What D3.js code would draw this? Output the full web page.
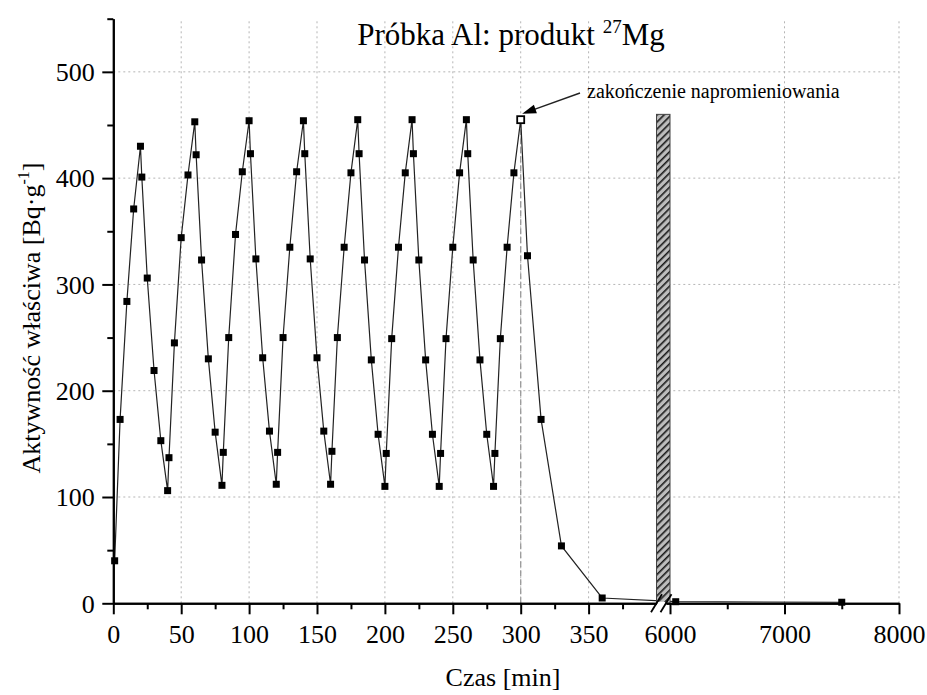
<!DOCTYPE html>
<html>
<head>
<meta charset="utf-8">
<script src="https://cdn.jsdelivr.net/npm/d3@7"></script>
<style>
  html, body { margin: 0; padding: 0; background: #fff; }
  svg { display: block; font-family: "Liberation Serif", "Times New Roman", serif; }
  svg text { font-family: "Liberation Serif", "Times New Roman", serif; }
</style>
</head>
<body>
<svg id="chart" width="927" height="695"></svg>
<script>
// Measured specific activity of 27Mg in the Al sample, cyclic irradiation then decay
const timeMin = [
  1, 5, 10, 15, 20, 21, 25, 30, 35,
  40, 41, 45, 50, 55, 60, 61, 65, 70, 75,
  80, 81, 85, 90, 95, 100, 101, 105, 110, 115,
  120, 121, 125, 130, 135, 140, 141, 145, 150, 155,
  160, 161, 165, 170, 175, 180, 181, 185, 190, 195,
  200, 201, 205, 210, 215, 220, 221, 225, 230, 235,
  240, 241, 245, 250, 255, 260, 261, 265, 270, 275,
  280, 281, 285, 290, 295, 300, 305, 315, 330, 360,
  6050, 7500
];
const activity = [
  40, 173, 284, 371, 430, 401, 306, 219, 153,
  106, 137, 245, 344, 403, 453, 422, 323, 230, 161,
  111, 142, 250, 347, 406, 454, 423, 324, 231, 162,
  112, 142, 250, 335, 406, 454, 423, 324, 231, 162,
  112, 143, 250, 335, 405, 455, 423, 323, 229, 159,
  110, 141, 249, 335, 405, 455, 423, 323, 229, 159,
  110, 141, 249, 335, 405, 455, 423, 323, 229, 159,
  110, 141, 249, 335, 405, 455, 327, 173, 54, 5,
  1.5, 1
];

// Axis ticks (x axis is broken between 400 and ~5965 min)
const yMajorTicks = [0, 100, 200, 300, 400, 500];
const yMinorTicks = [50, 150, 250, 350, 450, 550];
const xLowMajorTicks = [0, 50, 100, 150, 200, 250, 300, 350];
const xLowMinorTicks = [25, 75, 125, 175, 225, 275, 325, 375];
const xHighMajorTicks = [6000, 7000, 8000];
const xHighMinorTicks = [6500, 7500];
const xGridValues = [50, 100, 150, 200, 250, 300, 350, 7000, 8000];
const yGridValues = [100, 200, 300, 400, 500];

// End of irradiation marker and the hatched column
const irradiationEnd = [300];
const hatchColumn = [{ from: 400, to: 6000, value: 460 }];

const FONT = "'Liberation Serif', 'Times New Roman', serif";
const svg = d3.select("#chart");

const y = d3.scaleLinear().domain([0, 550]).range([603.3, 18.7]);
const xLow = d3.scaleLinear().domain([0, 400]).range([113.3, 656.5]);
const xHigh = d3.scaleLinear().domain([5965, 8000]).range([666, 899]);
const x = t => (t <= 400 ? xLow(t) : xHigh(t));

const points = timeMin.map((t, i) => ({ t, v: activity[i] }));

// hatch pattern for the column
const defs = svg.append("defs");
const pat = defs.append("pattern")
  .attr("id", "hatch")
  .attr("patternUnits", "userSpaceOnUse")
  .attr("width", 5).attr("height", 5)
  .attr("patternTransform", "rotate(45)");
pat.append("rect").attr("width", 5).attr("height", 5).attr("fill", "#bdbdbd");
pat.append("rect").attr("width", 1.6).attr("height", 5).attr("fill", "#1a1a1a");

// grid
const grid = svg.append("g")
  .attr("stroke", "#b5b5b5")
  .attr("stroke-width", 1)
  .attr("stroke-dasharray", "2,3");
grid.selectAll("line.h").data(yGridValues).join("line")
  .attr("class", "h")
  .attr("x1", xLow(0)).attr("x2", xHigh(8000))
  .attr("y1", d => y(d)).attr("y2", d => y(d));
grid.selectAll("line.v").data(xGridValues).join("line")
  .attr("class", "v")
  .attr("x1", d => x(d)).attr("x2", d => x(d))
  .attr("y1", y(0)).attr("y2", y(550));

// dashed line at the end of irradiation
svg.selectAll("line.end").data(irradiationEnd).join("line")
  .attr("class", "end")
  .attr("x1", d => x(d)).attr("x2", d => x(d))
  .attr("y1", y(0)).attr("y2", d => y(activity[timeMin.indexOf(d)]))
  .attr("stroke", "#999")
  .attr("stroke-width", 1.3)
  .attr("stroke-dasharray", "6,3");

// data line
svg.append("path")
  .datum(points)
  .attr("fill", "none")
  .attr("stroke", "#222")
  .attr("stroke-width", 1.2)
  .attr("d", d3.line().x(d => x(d.t)).y(d => y(d.v)));

// markers
const ms = 7;
svg.append("g").selectAll("rect").data(points).join("rect")
  .attr("x", d => x(d.t) - ms / 2)
  .attr("y", d => y(d.v) - ms / 2)
  .attr("width", ms).attr("height", ms)
  .attr("fill", d => (irradiationEnd.includes(d.t) ? "#fff" : "#000"))
  .attr("stroke", "#000")
  .attr("stroke-width", d => (irradiationEnd.includes(d.t) ? 1.8 : 0));

// hatched column across the break
svg.selectAll("rect.col").data(hatchColumn).join("rect")
  .attr("class", "col")
  .attr("x", d => x(d.from))
  .attr("y", d => y(d.value))
  .attr("width", d => x(d.to) - x(d.from))
  .attr("height", d => y(0) - y(d.value))
  .attr("fill", "url(#hatch)")
  .attr("stroke", "#444")
  .attr("stroke-width", 1);

// axes
function styleAxis(g) {
  g.attr("font-size", 26).attr("font-family", null).style("font-family", FONT);
  g.selectAll(".domain").attr("stroke", "#000").attr("stroke-width", 2);
  g.selectAll(".tick line").attr("stroke", "#000").attr("stroke-width", 2);
  g.selectAll(".tick text").attr("fill", "#000").style("font-family", FONT).style("font-size", "26px");
}

const xAxisY = y(0);
[[xLow, xLowMajorTicks, xLowMinorTicks], [xHigh, xHighMajorTicks, xHighMinorTicks]].forEach(([sc, major, minor]) => {
  svg.append("g")
    .attr("transform", `translate(0,${xAxisY})`)
    .call(d3.axisBottom(sc).tickValues(minor).tickSize(6).tickSizeOuter(0).tickFormat(""))
    .call(styleAxis);
  svg.append("g")
    .attr("transform", `translate(0,${xAxisY})`)
    .call(d3.axisBottom(sc).tickValues(major).tickSize(11).tickSizeOuter(0).tickFormat(d3.format("d")))
    .call(styleAxis)
    .call(g => g.selectAll(".tick text").attr("y", 39.5).attr("dy", null));
});

const yAxisX = xLow(0);
svg.append("g")
  .attr("transform", `translate(${yAxisX},0)`)
  .call(d3.axisLeft(y).tickValues(yMinorTicks).tickSize(6).tickSizeOuter(0).tickFormat(""))
  .call(styleAxis);
svg.append("g")
  .attr("transform", `translate(${yAxisX},0)`)
  .call(d3.axisLeft(y).tickValues(yMajorTicks).tickSize(11).tickSizeOuter(0).tickFormat(d3.format("d")))
  .call(styleAxis)
  .call(g => g.selectAll(".tick text").attr("x", -18.5).attr("dy", "0.34em"));

// axis break marks
const bx1 = xLow(400), bx2 = xHigh(5965);
svg.append("rect").attr("x", bx1 + 1).attr("y", xAxisY - 1.5).attr("width", bx2 - bx1 - 2).attr("height", 3).attr("fill", "#fff");
svg.append("g").attr("stroke", "#000").attr("stroke-width", 1.8)
  .selectAll("line").data([bx1, bx2]).join("line")
  .attr("x1", d => d - 5.5).attr("y1", xAxisY + 9)
  .attr("x2", d => d + 5.5).attr("y2", xAxisY - 9);

// titles
svg.append("text")
  .attr("x", 511).attr("y", 45)
  .attr("text-anchor", "middle")
  .attr("font-size", 31)
  .call(t => {
    t.append("tspan").text("Próbka Al: produkt ");
    t.append("tspan").attr("font-size", 19).attr("dy", -12).text("27");
    t.append("tspan").attr("dy", 12).text("Mg");
  });

svg.append("text")
  .attr("x", 503).attr("y", 686)
  .attr("text-anchor", "middle")
  .attr("font-size", 26)
  .text("Czas [min]");

svg.append("text")
  .attr("transform", "translate(40,318) rotate(-90)")
  .attr("text-anchor", "middle")
  .attr("font-size", 26)
  .call(t => {
    t.append("tspan").text("Aktywność właściwa [Bq·g");
    t.append("tspan").attr("font-size", 16).attr("dy", -11).text("-1");
    t.append("tspan").attr("dy", 11).text("]");
  });

// annotation with arrow
svg.append("text")
  .attr("x", 587).attr("y", 98)
  .attr("font-size", 20)
  .text("zakończenie napromieniowania");

const tip = [x(irradiationEnd[0]) + 1.5, y(activity[timeMin.indexOf(irradiationEnd[0])]) - 6];
const tail = [580, 93];
const ang = Math.atan2(tail[1] - tip[1], tail[0] - tip[0]);
svg.append("line")
  .attr("x1", tail[0]).attr("y1", tail[1])
  .attr("x2", tip[0] + 10 * Math.cos(ang)).attr("y2", tip[1] + 10 * Math.sin(ang))
  .attr("stroke", "#222").attr("stroke-width", 1.4);
const hl = 14, hw = 4.5;
const bxp = tip[0] + hl * Math.cos(ang), byp = tip[1] + hl * Math.sin(ang);
svg.append("path")
  .attr("d", `M${tip[0]},${tip[1]} L${bxp - hw * Math.sin(ang)},${byp + hw * Math.cos(ang)} L${bxp + hw * Math.sin(ang)},${byp - hw * Math.cos(ang)} Z`)
  .attr("fill", "#000");
</script>
</body>
</html>
